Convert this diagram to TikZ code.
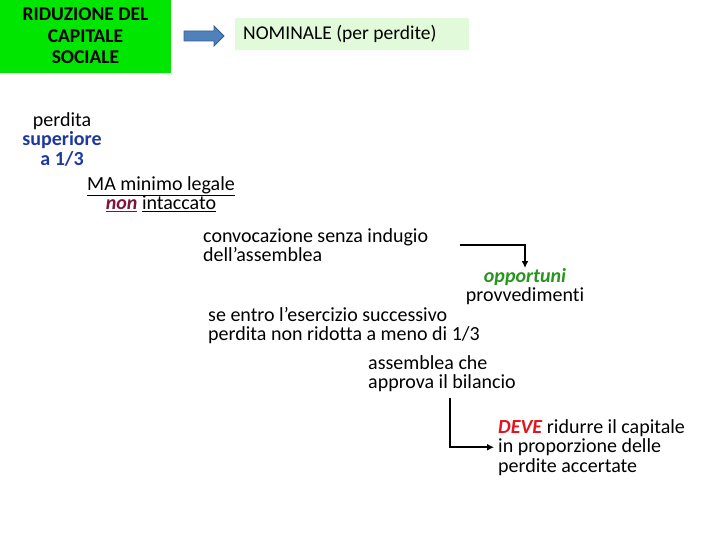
\documentclass[tikz,border=0pt]{standalone}
\usepackage{fontspec}
\setmainfont[Ligatures=CommonOff]{Carlito}
\usepackage{xcolor}
\usetikzlibrary{arrows.meta, positioning, calc}

\definecolor{titlegreen}{RGB}{0,230,0}
\definecolor{nomgreen}{RGB}{225,250,218}
\definecolor{arrowblue}{RGB}{79,129,189}
\definecolor{arrowedge}{RGB}{56,93,138}
\definecolor{supblue}{RGB}{31,56,160}
\definecolor{nonred}{RGB}{125,20,60}
\definecolor{oppgreen}{RGB}{40,150,30}
\definecolor{devered}{RGB}{225,20,30}

\begin{document}
\begin{tikzpicture}[x=1pt, y=-1pt,
  every node/.style={font=\fontsize{20}{19.5}\selectfont, inner sep=0pt},
  conn/.style={line width=1.6pt, -{Latex[length=7pt, width=7pt]}}]
  \useasboundingbox (0,0) rectangle (720,540);
  % title and block arrow
  \fill[titlegreen] (0,0) rectangle (171,73);
  \node[align=center, font=\bfseries\fontsize{19.5}{21.5}\selectfont] (titolo) at (85.5,36)
    {RIDUZIONE DEL\\ CAPITALE\\ SOCIALE};
  \filldraw[fill=arrowblue, draw=arrowedge, line width=0.8pt]
    (184,31) -- (214,31) -- (214,26) -- (224,36) -- (214,46) -- (214,41) -- (184,41) -- cycle;
  \fill[nomgreen] (235,18) rectangle (469,50);
  \node[anchor=west, font=\fontsize{19.5}{21}\selectfont] (nominale) at (243,34) {NOMINALE (per perdite)};
  % text blocks
  \node[align=center, anchor=north] (perdita) at (62,112)
    {perdita\\ \textcolor{supblue}{\textbf{superiore}}\\ \textcolor{supblue}{\textbf{a 1/3}}};
  \node[align=center, anchor=north] (minimo) at (161,176)
    {\underline{MA minimo legale}\\ \textcolor{nonred}{\underline{\textbf{\textit{non}}}} \underline{intaccato}};
  \node[align=left, anchor=north west] (convoca) at (203,228)
    {convocazione senza indugio\\ dell’assemblea};
  \node[align=center, anchor=north] (opportuni) at (525,268)
    {\textcolor{oppgreen}{\textbf{\textit{opportuni}}}\\ provvedimenti};
  \node[align=left, anchor=north west] (entro) at (208,307)
    {se entro l’esercizio successivo\\ perdita non ridotta a meno di 1/3};
  \node[align=left, anchor=north west] (assemblea) at (368,355)
    {assemblea che\\ approva il bilancio};
  \node[align=left, anchor=north west] (deve) at (498,419)
    {\textcolor{devered}{\textbf{\textit{DEVE}}} ridurre il capitale\\ in proporzione delle\\ perdite accertate};
  % connectors
  \coordinate (giro) at (460,245);
  \draw[conn] (giro) -| (opportuni.north);
  \draw[conn, shorten >=4pt] ([xshift=8pt, yshift=-6pt]assemblea.south) |- (deve.west);
\end{tikzpicture}
\end{document}
